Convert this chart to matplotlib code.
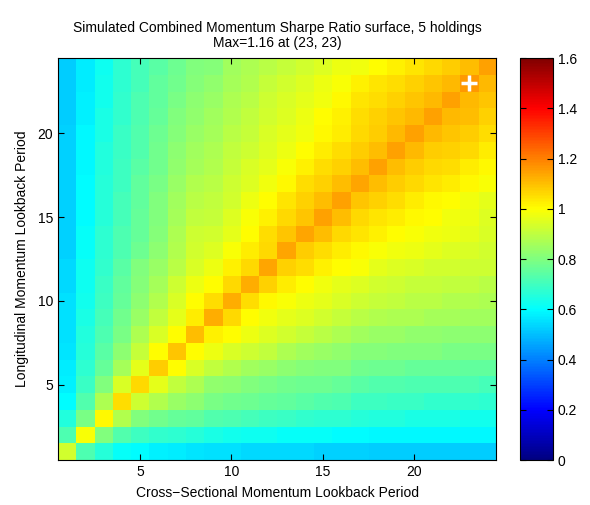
import matplotlib
matplotlib.use("Agg")
import matplotlib.pyplot as plt
import numpy as np
from matplotlib.colors import ListedColormap
from matplotlib.ticker import FormatStrFormatter

plt.rcParams['font.family'] = ['Liberation Sans', 'DejaVu Sans']
plt.rcParams['font.size'] = 10

# lookback periods (1..24) for both strategies
periods = np.arange(1, 25)

# Sharpe ratio, one row per longitudinal lookback (1 at the bottom),
# one column per cross-sectional lookback
sharpe = np.array([
    [0.93, 0.72, 0.66, 0.61, 0.60, 0.58, 0.57, 0.56, 0.55, 0.55, 0.54, 0.54, 0.54, 0.54, 0.53, 0.53, 0.53, 0.52, 0.52, 0.52, 0.52, 0.52, 0.52, 0.52],
    [0.72, 0.99, 0.80, 0.73, 0.70, 0.68, 0.67, 0.66, 0.64, 0.63, 0.62, 0.62, 0.61, 0.61, 0.61, 0.60, 0.60, 0.59, 0.59, 0.59, 0.59, 0.59, 0.59, 0.59],
    [0.65, 0.79, 1.01, 0.88, 0.80, 0.78, 0.76, 0.75, 0.73, 0.72, 0.71, 0.70, 0.69, 0.68, 0.67, 0.67, 0.66, 0.65, 0.65, 0.64, 0.64, 0.64, 0.63, 0.63],
    [0.60, 0.73, 0.87, 1.05, 0.92, 0.88, 0.84, 0.82, 0.79, 0.78, 0.77, 0.76, 0.75, 0.74, 0.73, 0.72, 0.70, 0.70, 0.69, 0.69, 0.68, 0.68, 0.68, 0.67],
    [0.58, 0.69, 0.80, 0.94, 1.06, 0.96, 0.90, 0.87, 0.83, 0.82, 0.80, 0.79, 0.78, 0.77, 0.77, 0.76, 0.74, 0.73, 0.73, 0.72, 0.72, 0.72, 0.72, 0.71],
    [0.57, 0.67, 0.76, 0.86, 0.96, 1.08, 1.00, 0.94, 0.90, 0.88, 0.85, 0.84, 0.82, 0.81, 0.80, 0.80, 0.78, 0.77, 0.77, 0.76, 0.76, 0.76, 0.75, 0.75],
    [0.56, 0.66, 0.74, 0.82, 0.91, 1.00, 1.09, 1.00, 0.97, 0.94, 0.92, 0.90, 0.87, 0.85, 0.84, 0.83, 0.81, 0.81, 0.80, 0.80, 0.80, 0.79, 0.79, 0.79],
    [0.55, 0.65, 0.72, 0.79, 0.87, 0.94, 1.00, 1.10, 1.02, 1.00, 0.97, 0.95, 0.93, 0.91, 0.89, 0.87, 0.85, 0.84, 0.84, 0.83, 0.83, 0.82, 0.82, 0.82],
    [0.55, 0.64, 0.71, 0.78, 0.84, 0.90, 0.96, 1.03, 1.13, 1.06, 1.00, 0.98, 0.96, 0.95, 0.93, 0.91, 0.89, 0.88, 0.87, 0.87, 0.86, 0.86, 0.85, 0.85],
    [0.55, 0.63, 0.70, 0.76, 0.82, 0.88, 0.94, 1.00, 1.05, 1.13, 1.05, 1.01, 0.99, 0.97, 0.96, 0.94, 0.92, 0.91, 0.90, 0.89, 0.89, 0.88, 0.88, 0.87],
    [0.54, 0.62, 0.69, 0.75, 0.81, 0.86, 0.92, 0.97, 1.00, 1.06, 1.13, 1.07, 1.03, 1.00, 0.98, 0.96, 0.95, 0.93, 0.92, 0.91, 0.91, 0.90, 0.90, 0.89],
    [0.54, 0.62, 0.68, 0.74, 0.80, 0.84, 0.89, 0.94, 0.97, 1.02, 1.06, 1.14, 1.07, 1.05, 1.02, 1.00, 0.99, 0.96, 0.95, 0.94, 0.93, 0.93, 0.92, 0.92],
    [0.53, 0.61, 0.67, 0.72, 0.77, 0.82, 0.88, 0.93, 0.95, 0.99, 1.03, 1.06, 1.14, 1.08, 1.05, 1.03, 1.01, 0.99, 0.98, 0.97, 0.96, 0.95, 0.94, 0.93],
    [0.53, 0.61, 0.67, 0.72, 0.76, 0.81, 0.87, 0.92, 0.93, 0.96, 1.00, 1.05, 1.09, 1.14, 1.10, 1.06, 1.04, 1.02, 1.00, 0.99, 0.98, 0.97, 0.96, 0.94],
    [0.53, 0.60, 0.66, 0.71, 0.76, 0.80, 0.86, 0.90, 0.91, 0.95, 0.99, 1.02, 1.06, 1.09, 1.15, 1.10, 1.06, 1.04, 1.03, 1.01, 1.00, 0.98, 0.97, 0.95],
    [0.53, 0.60, 0.66, 0.71, 0.75, 0.80, 0.85, 0.89, 0.90, 0.93, 0.97, 1.00, 1.04, 1.07, 1.10, 1.15, 1.09, 1.07, 1.05, 1.03, 1.01, 1.00, 0.98, 0.96],
    [0.53, 0.60, 0.66, 0.70, 0.75, 0.79, 0.84, 0.88, 0.89, 0.92, 0.95, 0.98, 1.01, 1.05, 1.07, 1.10, 1.14, 1.10, 1.08, 1.06, 1.04, 1.03, 1.01, 0.99],
    [0.53, 0.59, 0.65, 0.70, 0.74, 0.78, 0.83, 0.86, 0.88, 0.91, 0.94, 0.96, 0.99, 1.02, 1.05, 1.07, 1.10, 1.15, 1.10, 1.08, 1.06, 1.05, 1.03, 1.01],
    [0.53, 0.59, 0.65, 0.69, 0.73, 0.78, 0.82, 0.85, 0.87, 0.90, 0.92, 0.95, 0.97, 1.00, 1.03, 1.05, 1.08, 1.10, 1.15, 1.11, 1.08, 1.07, 1.06, 1.03],
    [0.53, 0.59, 0.64, 0.69, 0.73, 0.77, 0.81, 0.84, 0.86, 0.89, 0.91, 0.94, 0.96, 0.98, 1.01, 1.03, 1.06, 1.08, 1.11, 1.15, 1.11, 1.09, 1.08, 1.05],
    [0.52, 0.58, 0.64, 0.68, 0.72, 0.76, 0.80, 0.83, 0.85, 0.88, 0.90, 0.93, 0.95, 0.97, 1.00, 1.02, 1.05, 1.07, 1.09, 1.11, 1.15, 1.11, 1.10, 1.07],
    [0.52, 0.58, 0.63, 0.68, 0.72, 0.75, 0.79, 0.82, 0.84, 0.87, 0.89, 0.92, 0.94, 0.96, 0.98, 1.01, 1.04, 1.05, 1.07, 1.09, 1.11, 1.15, 1.11, 1.09],
    [0.52, 0.57, 0.63, 0.67, 0.71, 0.75, 0.78, 0.81, 0.83, 0.86, 0.88, 0.91, 0.93, 0.95, 0.97, 0.99, 1.02, 1.04, 1.05, 1.07, 1.09, 1.11, 1.16, 1.11],
    [0.52, 0.57, 0.62, 0.67, 0.71, 0.74, 0.77, 0.80, 0.81, 0.85, 0.87, 0.89, 0.91, 0.93, 0.95, 0.97, 0.98, 1.00, 1.02, 1.04, 1.06, 1.08, 1.10, 1.15],
])

axis_ticks = [5, 10, 15, 20]
cbar_ticks = [0, 0.2, 0.4, 0.6, 0.8, 1.0, 1.2, 1.4, 1.6]


def matlab_jet(n=256):
    """Classic jet: dark blue -> cyan -> yellow -> dark red."""
    x = (np.arange(n) + 0.5) / n
    r = np.clip(1.5 - np.abs(4 * x - 3), 0, 1)
    g = np.clip(1.5 - np.abs(4 * x - 2), 0, 1)
    b = np.clip(1.5 - np.abs(4 * x - 1), 0, 1)
    return ListedColormap(np.column_stack([r, g, b]))


# best combination
iy, ix = np.unravel_index(np.argmax(sharpe), sharpe.shape)
best_x, best_y = periods[ix], periods[iy]

fig = plt.figure(figsize=(5.9, 5.05), dpi=100)
ax = fig.add_axes([0.0983, 0.0891, 0.7424, 0.7960])
cax = fig.add_axes([0.8814, 0.0891, 0.0560, 0.7960])

half = 0.5
im = ax.imshow(sharpe, origin='lower', cmap=matlab_jet(), vmin=0, vmax=1.6,
               extent=[periods[0] - half, periods[-1] + half,
                       periods[0] - half, periods[-1] + half],
               aspect='auto', interpolation='nearest')
ax.plot(best_x, best_y, marker='+', color='white', markersize=12,
        markeredgewidth=2.5)

ax.set_xticks(axis_ticks)
ax.set_yticks(axis_ticks)
ax.tick_params(direction='in', top=True, right=True, length=4, width=0.8)
ax.set_xlabel('Cross\u2212Sectional Momentum Lookback Period', labelpad=5)
ax.set_ylabel('Longitudinal Momentum Lookback Period', labelpad=6)
ax.set_title('Simulated Combined Momentum Sharpe Ratio surface, 5 holdings\n'
             'Max=%.2f at (%d, %d)' % (sharpe[iy, ix], best_x, best_y),
             fontsize=10, pad=8, linespacing=1.1)
for s in ax.spines.values():
    s.set_linewidth(0.8)

cb = fig.colorbar(im, cax=cax, ticks=cbar_ticks)
cb.ax.yaxis.set_major_formatter(FormatStrFormatter('%g'))
cb.ax.tick_params(direction='in', left=True, right=True, length=4, width=0.8)
cb.outline.set_linewidth(0.8)

fig.savefig('out.png', dpi=100)
